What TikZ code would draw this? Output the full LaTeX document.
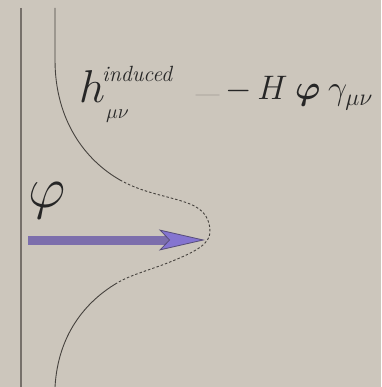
\RequirePackage{fix-cm}
\documentclass[tikz,border=0pt]{standalone}
\usepackage{bm}
\usetikzlibrary{arrows.meta,positioning}

\definecolor{paper}{RGB}{204,198,188}
\definecolor{wallgray}{RGB}{118,112,106}
\definecolor{curvegray}{RGB}{70,66,62}
\definecolor{shaftpurple}{RGB}{124,110,172}
\definecolor{headpurple}{RGB}{132,116,208}
\definecolor{faintdash}{RGB}{184,178,170}

\begin{document}
\begin{tikzpicture}[
  x=1pt, y=-1pt,
  profile/.style={curvegray, line width=0.9pt},
  tail/.style={profile, dashed, dash pattern=on 2.5pt off 2pt},
  wall/.style={wallgray, line width=1.6pt},
  push/.style={
    shaftpurple,
    line width=9pt,
    -{Stealth[length=46pt,width=21pt,inset=10pt,fill=headpurple,color=shaftpurple!70!black,line width=0.8pt]}
  },
  formula/.style={inner sep=0pt, anchor=base west, text=black!85}
]
  \fill[paper] (0,0) rectangle (381,387);
  \useasboundingbox (0,0) rectangle (381,387);

  % wall on the left
  \coordinate (walltop) at (21,8);
  \coordinate (wallbottom) at (21,387);
  \draw[wall] (walltop) -- (wallbottom);

  % profile: solid flanks, dashed bump
  \coordinate (topend) at (55,8);
  \coordinate (upperjoin) at (120,180);
  \coordinate (peak) at (210,232);
  \coordinate (lowerjoin) at (117,283);
  \coordinate (bottomend) at (55,387);

  \draw[profile] (topend) -- (55,60) .. controls (55,120) and (85,160) .. (upperjoin);
  \draw[tail] (upperjoin) .. controls (145,194) and (170,196) .. (190,204)
    .. controls (205,210) and (210,220) .. (peak)
    .. controls (210,244) and (195,252) .. (170,262)
    .. controls (150,270) and (130,275) .. (lowerjoin);
  \draw[profile] (lowerjoin) .. controls (85,302) and (58,335) .. (bottomend);

  % the arrow
  \coordinate (arrowtail) at (28,240);
  \coordinate (arrowtip) at (205,240);
  \draw[push] (arrowtail) -- (arrowtip);

  \node[formula, font=\fontsize{58}{62}\selectfont] (philabel) at (28,207) {$\varphi$};

  % h^induced_{mu nu}  -  -H phi gamma
  \node[formula, font=\fontsize{46}{50}\selectfont] (hsym) at (79,103) {$h$};
  \node[formula, font=\fontsize{22}{24}\selectfont] (hsup) at (102,82) {\itshape induced};
  \node[formula, font=\fontsize{20}{22}\selectfont] (hsub) at (106,119) {$\mu\nu$};
  \node[formula, font=\fontsize{40}{42}\selectfont, text=faintdash] (eqsign) at (192,106) {$-$};
  \node[formula, font=\fontsize{34}{37}\selectfont] (rhs) at (225,100)
    {$-\mkern3mu H\mkern4mu\bm{\varphi}\mkern4mu\gamma_{\mu\nu}$};
\end{tikzpicture}
\end{document}
